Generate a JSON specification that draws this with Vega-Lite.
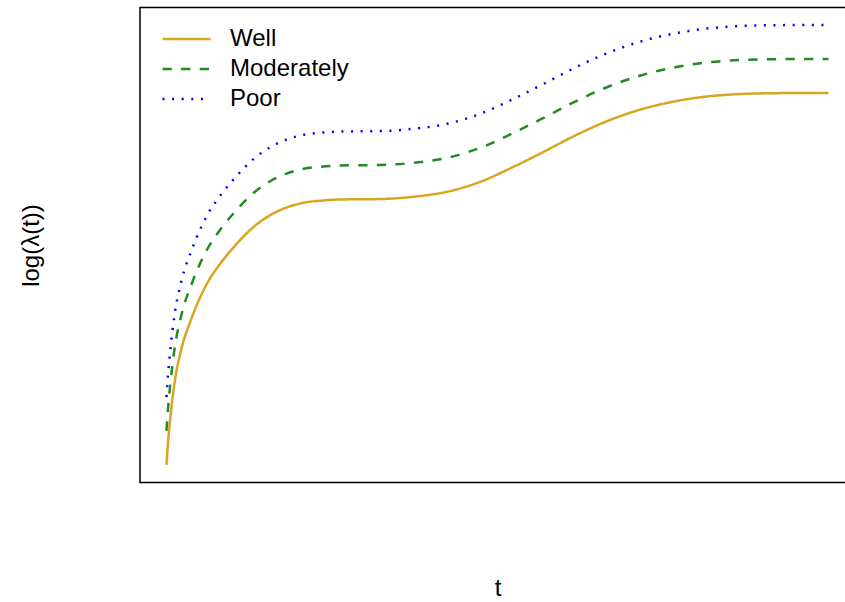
{
  "$schema": "https://vega.github.io/schema/vega-lite/v6.json",
  "width": 715,
  "height": 475,
  "autosize": {"type": "none"},
  "padding": {"left": 140, "top": 7.5, "right": -10, "bottom": 119.5},
  "background": "white",
  "config": {
    "view": {"stroke": "#000000", "strokeWidth": 1.5},
    "font": "Liberation Sans"
  },
  "data": {
    "values": [
      {"t": 0, "Well": 0, "Moderately": 0.773, "Poor": 1.545},
      {"t": 0.015, "Well": 0.341, "Moderately": 1.114, "Poor": 1.886},
      {"t": 0.06, "Well": 1.098, "Moderately": 1.871, "Poor": 2.643},
      {"t": 0.121, "Well": 1.857, "Moderately": 2.63, "Poor": 3.402},
      {"t": 0.222, "Well": 2.614, "Moderately": 3.387, "Poor": 4.159},
      {"t": 0.388, "Well": 3.37, "Moderately": 4.143, "Poor": 4.915},
      {"t": 0.615, "Well": 4.13, "Moderately": 4.903, "Poor": 5.675},
      {"t": 0.816, "Well": 4.584, "Moderately": 5.357, "Poor": 6.129},
      {"t": 1.068, "Well": 5.039, "Moderately": 5.812, "Poor": 6.584},
      {"t": 1.319, "Well": 5.416, "Moderately": 6.189, "Poor": 6.961},
      {"t": 1.571, "Well": 5.682, "Moderately": 6.455, "Poor": 7.227},
      {"t": 1.823, "Well": 5.857, "Moderately": 6.63, "Poor": 7.402},
      {"t": 2.074, "Well": 5.961, "Moderately": 6.734, "Poor": 7.506},
      {"t": 2.326, "Well": 6.007, "Moderately": 6.78, "Poor": 7.552},
      {"t": 2.628, "Well": 6.035, "Moderately": 6.808, "Poor": 7.58},
      {"t": 2.93, "Well": 6.04, "Moderately": 6.813, "Poor": 7.585},
      {"t": 3.233, "Well": 6.045, "Moderately": 6.818, "Poor": 7.59},
      {"t": 3.736, "Well": 6.098, "Moderately": 6.871, "Poor": 7.643},
      {"t": 4.24, "Well": 6.211, "Moderately": 6.984, "Poor": 7.756},
      {"t": 4.743, "Well": 6.439, "Moderately": 7.212, "Poor": 7.984},
      {"t": 5.246, "Well": 6.78, "Moderately": 7.553, "Poor": 8.325},
      {"t": 5.699, "Well": 7.12, "Moderately": 7.893, "Poor": 8.665},
      {"t": 6.148, "Well": 7.47, "Moderately": 8.243, "Poor": 9.015},
      {"t": 6.662, "Well": 7.82, "Moderately": 8.593, "Poor": 9.365},
      {"t": 7.16, "Well": 8.08, "Moderately": 8.853, "Poor": 9.625},
      {"t": 7.659, "Well": 8.26, "Moderately": 9.033, "Poor": 9.805},
      {"t": 8.066, "Well": 8.36, "Moderately": 9.133, "Poor": 9.905},
      {"t": 8.565, "Well": 8.425, "Moderately": 9.198, "Poor": 9.97},
      {"t": 9.079, "Well": 8.45, "Moderately": 9.223, "Poor": 9.995},
      {"t": 9.5, "Well": 8.455, "Moderately": 9.228, "Poor": 10.0},
      {"t": 10, "Well": 8.455, "Moderately": 9.228, "Poor": 10.0}
    ]
  },
  "transform": [
    {"fold": ["Well", "Moderately", "Poor"], "as": ["group", "value"]}
  ],
  "mark": {"type": "line", "interpolate": "monotone", "strokeWidth": 2.5, "clip": true},
  "encoding": {
    "x": {
      "field": "t", "type": "quantitative",
      "scale": {"domain": [-0.4, 10.4], "nice": false, "zero": false},
      "axis": {"title": "t", "labels": false, "ticks": false, "domain": false, "grid": false,
               "titleFontSize": 24, "titleFontWeight": "normal", "titleColor": "#000000", "titlePadding": 94, "titleFont": "Liberation Sans"}
    },
    "y": {
      "field": "value", "type": "quantitative",
      "scale": {"domain": [-0.4, 10.4], "nice": false, "zero": false},
      "axis": {"title": "log(λ(t))", "labels": false, "ticks": false, "domain": false, "grid": false,
               "titleFontSize": 24, "titleFontWeight": "normal", "titleColor": "#000000", "titlePadding": 97, "titleFont": "Liberation Sans"}
    },
    "color": {
      "field": "group", "type": "nominal",
      "scale": {"domain": ["Well", "Moderately", "Poor"], "range": ["#DAA520", "#228B22", "#0000FF"]},
      "legend": {"title": null, "orient": "none", "legendX": 33, "legendY": 18, "symbolType": "M-2,0H2", "symbolSize": 576, "symbolStrokeWidth": 2.5, "labelFontSize": 24, "labelFont": "Liberation Sans", "labelColor": "#000000", "labelOffset": 30, "rowPadding": 4, "padding": 0}
    },
    "strokeDash": {
      "field": "group", "type": "nominal",
      "scale": {"domain": ["Well", "Moderately", "Poor"], "range": [[1, 0], [9.3, 9.3], [2, 7.6]]},
      "legend": {"title": null, "orient": "none", "legendX": 33, "legendY": 18, "symbolType": "M-2,0H2", "symbolSize": 576, "symbolStrokeWidth": 2.5, "labelFontSize": 24, "labelFont": "Liberation Sans", "labelColor": "#000000", "labelOffset": 30, "rowPadding": 4, "padding": 0}
    }
  }
}
